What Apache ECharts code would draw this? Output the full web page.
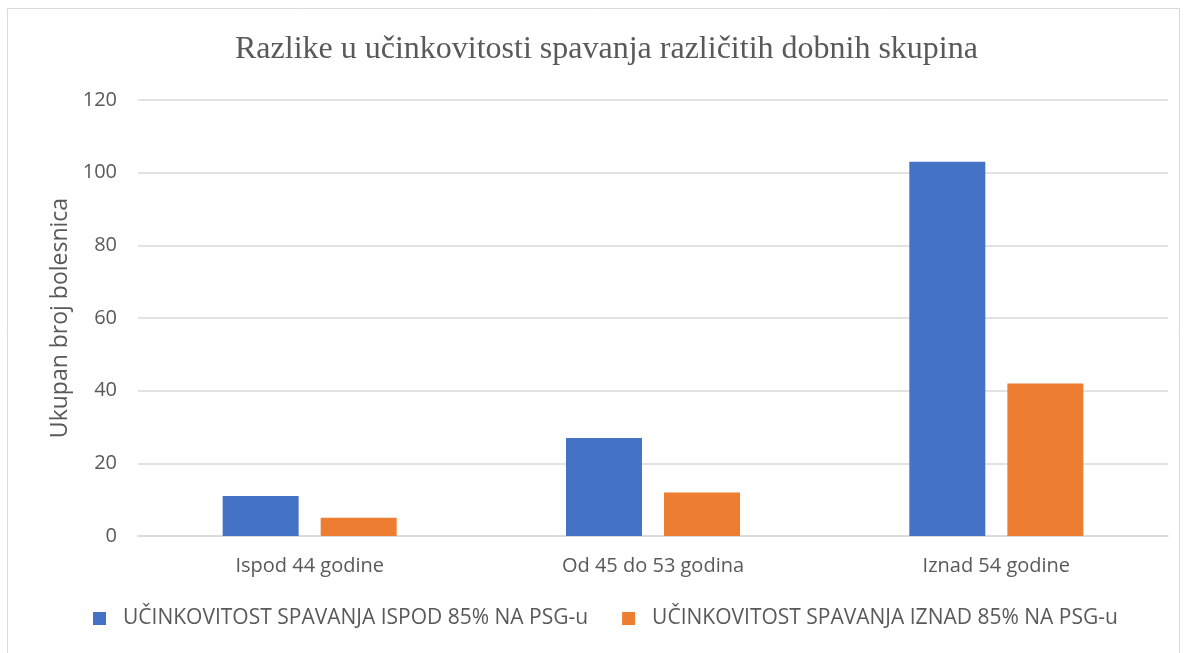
<!DOCTYPE html>
<html>
<head>
<meta charset="utf-8">
<script src="https://cdn.jsdelivr.net/npm/echarts@6/dist/echarts.min.js"></script>
<style>
  html, body { margin: 0; padding: 0; background: #fff; }
  #chart { width: 1184px; height: 653px; }
</style>
</head>
<body>
<div id="chart"></div>
<script>
const categories = ['Ispod 44 godine', 'Od 45 do 53 godina', 'Iznad 54 godine'];
const ispod85 = [11, 27, 103];
const iznad85 = [5, 12, 42];
const seriesNames = ['UČINKOVITOST SPAVANJA ISPOD 85% NA PSG-u', 'UČINKOVITOST SPAVANJA IZNAD 85% NA PSG-u'];

const font = '"Open Sans", "Liberation Sans", sans-serif';
const chart = echarts.init(document.getElementById('chart'));
chart.setOption({
  animation: false,
  graphic: [{
    type: 'rect',
    shape: { x: 7.5, y: 8.5, width: 1172, height: 660 },
    style: { fill: 'none', stroke: '#d9d9d9', lineWidth: 1 },
    silent: true
  }],
  title: {
    text: 'Razlike u učinkovitosti spavanja različitih dobnih skupina',
    left: 230,
    top: 29,
    textStyle: { fontFamily: '"Liberation Serif", serif', fontSize: 32, fontWeight: 'normal', color: '#595959' }
  },
  legend: {
    bottom: 19,
    left: 88,
    itemWidth: 13,
    itemHeight: 13,
    itemGap: 34,
    icon: 'rect',
    textStyle: { fontFamily: font, fontSize: 21, color: '#595959', padding: [0, 0, 0, 12] },
    data: seriesNames
  },
  grid: { left: 138, right: 16, top: 100, bottom: 117 },
  xAxis: {
    type: 'category',
    data: categories,
    axisLine: { lineStyle: { color: '#d9d9d9', width: 1.5 } },
    axisTick: { show: false },
    axisLabel: { fontFamily: font, fontSize: 20, color: '#595959', margin: 20 }
  },
  yAxis: {
    type: 'value',
    min: 0,
    max: 120,
    interval: 20,
    name: 'Ukupan broj bolesnica',
    nameLocation: 'middle',
    nameGap: 66,
    nameTextStyle: { fontFamily: font, fontSize: 23, color: '#595959' },
    axisLine: { show: false },
    axisTick: { show: false },
    axisLabel: { fontFamily: font, fontSize: 20, color: '#595959', margin: 21 },
    splitLine: { lineStyle: { color: '#d9d9d9', width: 1.5 } }
  },
  series: [
    {
      name: seriesNames[0],
      type: 'bar',
      data: ispod85,
      barWidth: 76,
      barGap: '29%',
      itemStyle: { color: '#4472c4' }
    },
    {
      name: seriesNames[1],
      type: 'bar',
      data: iznad85,
      barWidth: 76,
      itemStyle: { color: '#ed7d31' }
    }
  ]
});
</script>
</body>
</html>
